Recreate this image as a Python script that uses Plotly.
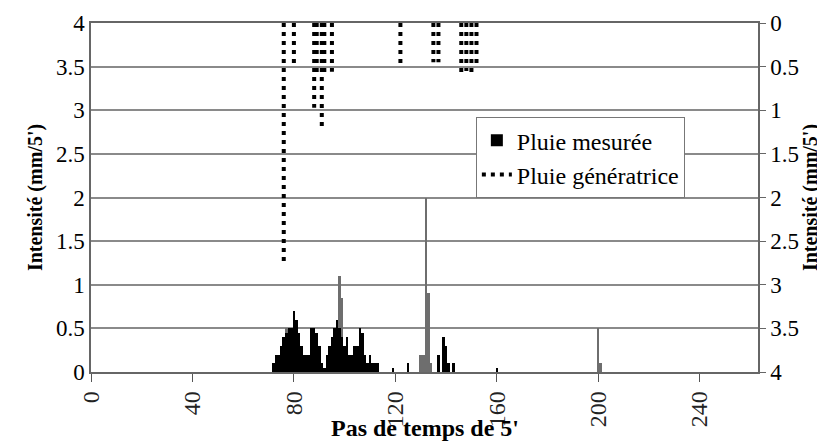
import plotly.graph_objects as go

# Pluie mesurée (black bars, left axis)
mes_x = list(range(72, 114)) + [119, 125, 137, 139, 140, 141, 143, 160]
mes_y = [0.1, 0.2, 0.2, 0.3, 0.4, 0.45, 0.5, 0.5, 0.7, 0.6,
         0.45, 0.3, 0.2, 0.2, 0.2, 0.5, 0.5, 0.45, 0.3, 0.1,
         0.05, 0.2, 0.3, 0.4, 0.5, 0.6, 0.5, 0.4, 0.3, 0.4,
         0.2, 0.2, 0.3, 0.3, 0.5, 0.45, 0.2, 0.1, 0.2, 0.1,
         0.1, 0.1,
         0.05, 0.1, 0.2, 0.4, 0.3, 0.1, 0.1, 0.05]

# second measured series (grey bars, left axis, no legend)
gris_x = [77, 78, 79, 87, 88, 97, 98, 99, 130, 131, 132, 133, 134, 200, 201]
gris_y = [0.5, 0.5, 0.5, 0.5, 0.5, 0.6, 1.1, 0.85, 0.2, 0.2, 2.0, 0.9, 0.1, 0.5, 0.1]

# Pluie génératrice (dashed bars, right reversed axis)
gen_x = [76, 80, 88, 89, 91, 92, 95, 122, 135, 137, 146, 148, 150, 152]
gen_y = [2.77, 0.5, 0.97, 0.6, 1.23, 0.6, 0.56, 0.5, 0.45, 0.45, 0.6, 0.55, 0.6, 0.5]

x_ticks = [0, 40, 80, 120, 160, 200, 240]
y_ticks = [0, 0.5, 1, 1.5, 2, 2.5, 3, 3.5, 4]

FONT = "Liberation Serif, Times New Roman, serif"

fig = go.Figure()
fig.add_trace(go.Bar(x=gris_x, y=gris_y, width=1, marker_color="#6e6e6e",
                     marker_line_width=0, showlegend=False, yaxis="y"))
fig.add_trace(go.Bar(x=mes_x, y=mes_y, width=1, marker_color="black",
                     marker_line_width=0, name="Pluie mesurée", yaxis="y"))

lx, ly = [], []
for xv, yv in zip(gen_x, gen_y):
    lx += [xv, xv, None]
    ly += [0, yv, None]
fig.add_trace(go.Scatter(x=lx, y=ly, mode="lines", yaxis="y2",
                         line=dict(color="black", width=4, dash="4px,5px"),
                         name="Pluie génératrice", connectgaps=False))

# page body adds an 8px offset, so the figure is sized to fit the window
fig.update_layout(
    width=817, height=435,
    margin=dict(l=83, r=67, t=15, b=71, autoexpand=False),
    paper_bgcolor="white", plot_bgcolor="white",
    barmode="overlay", bargap=0,
    font=dict(family=FONT, size=20, color="black"),
    xaxis=dict(range=[0, 263], tickvals=x_ticks, ticktext=[str(v) for v in x_ticks],
               tickangle=-90, ticks="outside", ticklen=8, tickcolor="#555",
               showline=True, linecolor="#666", linewidth=1.5, mirror=True,
               showgrid=False, zeroline=False, automargin=False,
               tickfont=dict(family=FONT, size=24, color="#222")),
    yaxis=dict(range=[0, 4], tickvals=y_ticks, ticktext=[f"{v:g}" for v in y_ticks],
               showgrid=True, gridcolor="#8a8a8a", gridwidth=1.5, automargin=False,
               showline=True, linecolor="#666", linewidth=1.5, zeroline=False,
               ticks="", tickfont=dict(family=FONT, size=23),
               title=dict(text="<b>Intensité (mm/5')</b>", standoff=8,
                          font=dict(family=FONT, size=20))),
    yaxis2=dict(range=[4, 0], overlaying="y", side="right", tickvals=y_ticks,
                ticktext=[f"{v:g}" for v in y_ticks], showgrid=False, automargin=False,
                showline=True, linecolor="#666", linewidth=1.5, zeroline=False,
                ticks="outside", ticklen=6, tickcolor="#666",
                tickfont=dict(family=FONT, size=23),
                title=dict(text="<b>Intensité (mm/5')</b>", standoff=0,
                           font=dict(family=FONT, size=20))),
    legend=dict(x=0.577, y=0.73, xanchor="left", yanchor="top",
                bgcolor="white", bordercolor="#777", borderwidth=1,
                font=dict(family=FONT, size=24), itemwidth=30,
                tracegroupgap=0),
    annotations=[dict(text="<b>Pas de temps de 5'</b>", xref="paper", yref="paper",
                      x=0.5, y=-0.16, xanchor="center", yanchor="middle",
                      showarrow=False, font=dict(family=FONT, size=24))],
)

fig.write_html("out.html")
